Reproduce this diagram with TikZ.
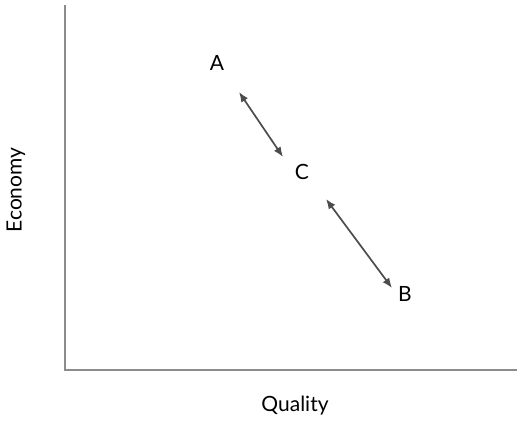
\documentclass[tikz,border=0pt]{standalone}
\usepackage{fontspec}
\setmainfont{Lato}
\usetikzlibrary{arrows.meta}
\begin{document}
\begin{tikzpicture}[x=1pt,y=-1pt,
  axis/.style={draw=black!45,line width=2pt},
  lbl/.style={font=\fontsize{21}{25}\selectfont,inner sep=0pt},
  dbl/.style={draw=black!70,line width=1.7pt,{Latex[length=10pt,width=8pt]}-{Latex[length=10pt,width=8pt]}}]
\useasboundingbox (0,0) rectangle (517,421);
\coordinate (top) at (65,5);
\coordinate (org) at (65,370);
\coordinate (rgt) at (517,370);
\draw[axis] (top) -- (org) -- (rgt);
\node[lbl] (A) at (217,63) {A};
\node[lbl] (C) at (302,172) {C};
\node[lbl] (B) at (405,294) {B};
\coordinate (a1) at (239,92);
\coordinate (a2) at (283,157);
\coordinate (b1) at (326,199);
\coordinate (b2) at (392,288);
\draw[dbl] (a1) -- (a2);
\draw[dbl] (b1) -- (b2);
\node[lbl] (q) at (295,406) {Quality};
\node[lbl,rotate=90] (e) at (16,190) {Economy};
\end{tikzpicture}
\end{document}
